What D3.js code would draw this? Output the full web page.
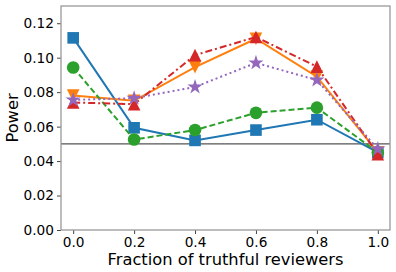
<!DOCTYPE html>
<html>
<head>
<meta charset="utf-8">
<script src="https://cdn.jsdelivr.net/npm/d3@7"></script>
<style>
  body { margin: 0; background: #fff; }
  text { font-family: "DejaVu Sans", sans-serif; }
</style>
</head>
<body>
<div id="chart"></div>
<script>
var svgWidth = 396;
var svgHeight = 272;

var margin = { top: 6, right: 6, bottom: 42, left: 61 };

// data
var fractions = [0.0, 0.2, 0.4, 0.6, 0.8, 1.0];
var blueSquares = [0.1115, 0.0593, 0.052, 0.058, 0.064, 0.045];
var orangeDown = [0.078, 0.075, 0.0945, 0.111, 0.089, 0.045];
var greenCircles = [0.0943, 0.0525, 0.058, 0.068, 0.071, 0.045];
var redUp = [0.074, 0.073, 0.1015, 0.112, 0.0948, 0.044];
var purpleStars = [0.0755, 0.0765, 0.083, 0.097, 0.087, 0.047];
var baseline = 0.05;
var xTicks = [0.0, 0.2, 0.4, 0.6, 0.8, 1.0];
var yTicks = [0.00, 0.02, 0.04, 0.06, 0.08, 0.10, 0.12];

// matplotlib-style triangles: width = height, centred on the box
function triangle(up) {
  return {
    draw: function(context, size) {
      var h = Math.sqrt(size) / 2;
      var s = up ? 1 : -1;
      context.moveTo(0, -h * s);
      context.lineTo(-h, h * s);
      context.lineTo(h, h * s);
      context.closePath();
    }
  };
}

var series = [
  { values: blueSquares, color: "#1f77b4", dash: null, symbol: d3.symbol().type(d3.symbolSquare).size(135) },
  { values: orangeDown, color: "#ff7f0e", dash: null, symbol: d3.symbol().type(triangle(false)).size(160) },
  { values: greenCircles, color: "#2ca02c", dash: "6,3", symbol: d3.symbol().type(d3.symbolCircle).size(125) },
  { values: redUp, color: "#d62728", dash: "7,3,2,3", symbol: d3.symbol().type(triangle(true)).size(160) },
  { values: purpleStars, color: "#9467bd", dash: "2,3", symbol: d3.symbol().type(d3.symbolStar).size(72) }
];

var width = svgWidth - margin.left - margin.right;
var height = svgHeight - margin.top - margin.bottom;

var svg = d3.select("#chart").append("svg")
  .attr("width", svgWidth)
  .attr("height", svgHeight);

var chart = svg.append("g")
  .attr("transform", `translate(${margin.left}, ${margin.top})`);

var x = d3.scaleLinear().domain([-0.04, 1.04]).range([0, width]);
var y = d3.scaleLinear().domain([0, 0.13]).range([height, 0]);

// axes
var xAxis = d3.axisBottom(x).tickValues(xTicks).tickFormat(d3.format(".1f")).tickSize(4).tickPadding(3);
var yAxis = d3.axisLeft(y).tickValues(yTicks).tickFormat(d3.format(".2f")).tickSize(4).tickPadding(3);

var gx = chart.append("g").attr("transform", `translate(0, ${height})`).call(xAxis);
var gy = chart.append("g").call(yAxis);
[gx, gy].forEach(function(g) {
  g.select(".domain").remove();
  g.selectAll("line").attr("stroke", "#444");
  g.selectAll("text").attr("font-size", "13.7px").attr("fill", "#000")
    .style("font-family", "DejaVu Sans");
});

// reference line
chart.append("line")
  .attr("x1", 0).attr("x2", width)
  .attr("y1", y(baseline)).attr("y2", y(baseline))
  .attr("stroke", "#555").attr("stroke-width", 1.3);

var line = d3.line()
  .x(function(d, i) { return x(fractions[i]); })
  .y(function(d) { return y(d); });

series.forEach(function(s) {
  chart.append("path")
    .datum(s.values)
    .attr("fill", "none")
    .attr("stroke", s.color)
    .attr("stroke-width", 2)
    .attr("stroke-dasharray", s.dash)
    .attr("d", line);

  chart.selectAll(null)
    .data(s.values)
    .enter()
    .append("path")
    .attr("transform", function(d, i) { return `translate(${x(fractions[i])}, ${y(d)})`; })
    .attr("d", s.symbol())
    .attr("fill", s.color);
});

// frame
chart.append("rect")
  .attr("width", width).attr("height", height)
  .attr("fill", "none")
  .attr("stroke", "#999").attr("stroke-width", 1.3);

chart.append("text")
  .text("Fraction of truthful reviewers")
  .attr("x", width / 2)
  .attr("y", height + 35)
  .attr("text-anchor", "middle")
  .attr("font-size", "16.3px");

chart.append("text")
  .text("Power")
  .attr("transform", "rotate(-90)")
  .attr("x", -height / 2)
  .attr("y", -margin.left + 18)
  .attr("text-anchor", "middle")
  .attr("font-size", "16.3px");
</script>
</body>
</html>
